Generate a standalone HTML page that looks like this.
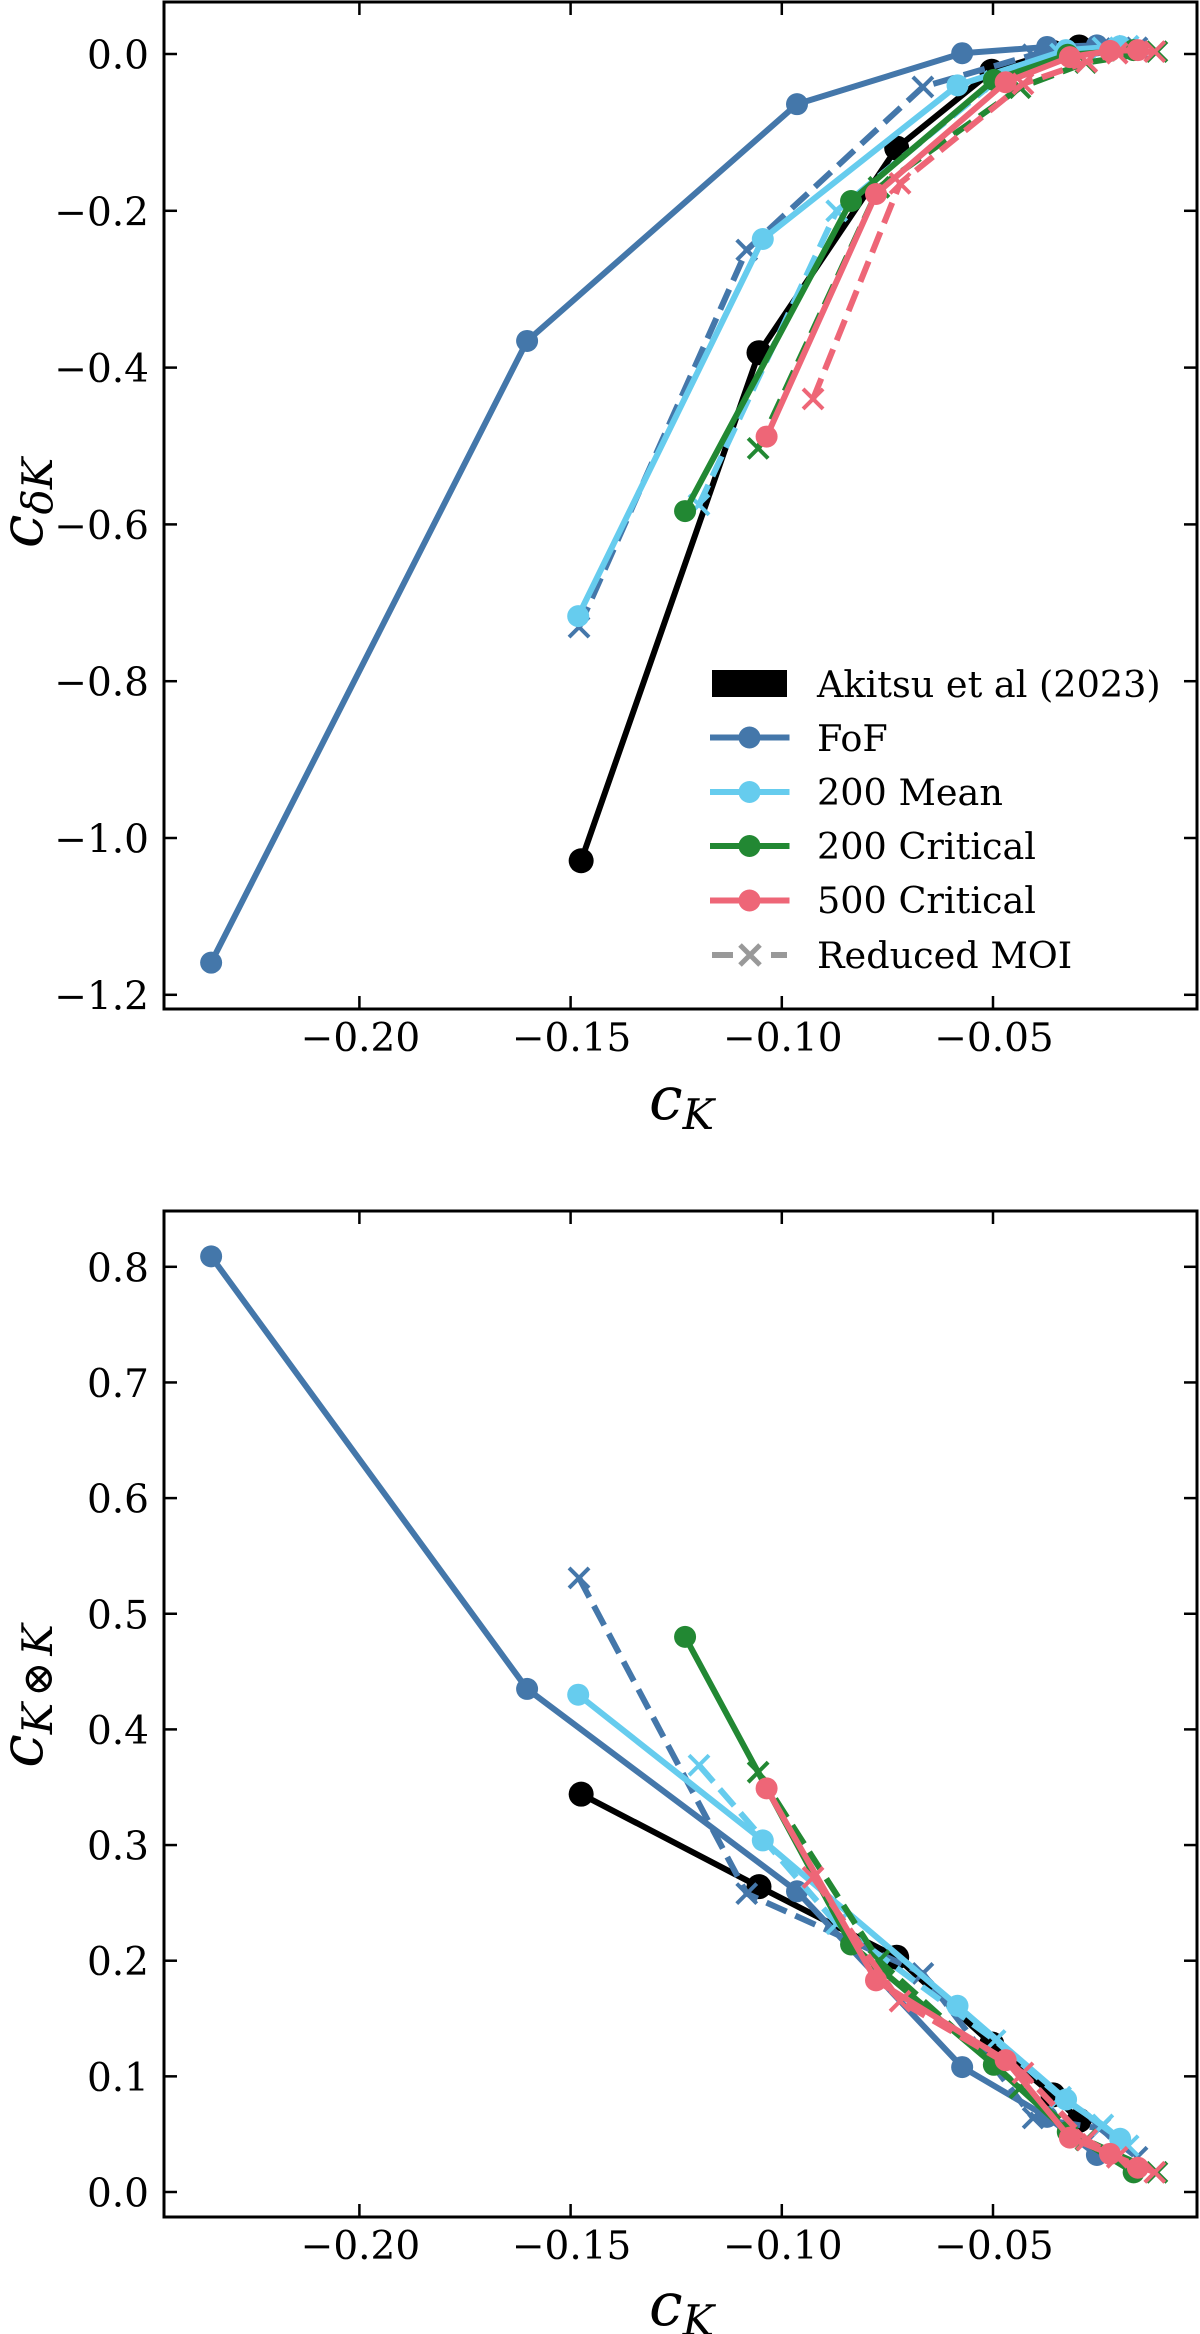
<!DOCTYPE html>
<html lang="en">
<head>
<meta charset="utf-8">
<title>Counterterm comparison</title>
<style>
html,body{margin:0;padding:0;background:#fff;}
svg{display:block;}
text{font-family:"DejaVu Serif","Liberation Serif",serif;fill:#000;}
</style>
</head>
<body>
<svg id="fig" xmlns="http://www.w3.org/2000/svg" width="1200" height="2334" viewBox="0 0 1200 2334">
  <rect x="0" y="0" width="1200" height="2334" fill="#fff"/>
  <g id="top-marks"></g>
  <g id="bottom-marks"></g>
  <g id="axes"></g>

  <text x="649" y="1119" font-size="60" font-style="italic">c<tspan font-size="42" dy="10">K</tspan></text>
  <text x="649" y="2325" font-size="60" font-style="italic">c<tspan font-size="42" dy="10">K</tspan></text>
  <text transform="translate(42,503) rotate(-90)" text-anchor="middle" font-size="60" font-style="italic">c<tspan font-size="42" dy="10">δK</tspan></text>
  <text transform="translate(42,1696) rotate(-90)" text-anchor="middle" font-size="60" font-style="italic">c<tspan font-size="42" dy="10">K</tspan><tspan font-size="42" font-style="normal" dx="6">⊗</tspan><tspan font-size="42" dx="6">K</tspan></text>

  <g>
    <g>
      <rect x="712" y="670" width="75" height="27" fill="#000"/>
      <text x="817" y="697" font-size="36.6">Akitsu et al (2023)</text>
    </g>
    <g>
      <line x1="710" x2="789.5" y1="737.5" y2="737.5" stroke="#4477AA" stroke-width="6"/>
      <circle cx="749.5" cy="737.5" r="11" fill="#4477AA"/>
      <text x="817" y="751" font-size="36.6">FoF</text>
    </g>
    <g>
      <line x1="710" x2="789.5" y1="792" y2="792" stroke="#66CCEE" stroke-width="6"/>
      <circle cx="749.5" cy="792" r="11" fill="#66CCEE"/>
      <text x="817" y="805" font-size="36.6">200 Mean</text>
    </g>
    <g>
      <line x1="710" x2="789.5" y1="846" y2="846" stroke="#228833" stroke-width="6"/>
      <circle cx="749.5" cy="846" r="11" fill="#228833"/>
      <text x="817" y="859" font-size="36.6">200 Critical</text>
    </g>
    <g>
      <line x1="710" x2="789.5" y1="900.5" y2="900.5" stroke="#EE6677" stroke-width="6"/>
      <circle cx="749.5" cy="900.5" r="11" fill="#EE6677"/>
      <text x="817" y="913" font-size="36.6">500 Critical</text>
    </g>
    <g>
      <line x1="712" x2="733" y1="955" y2="955" stroke="#999" stroke-width="6"/>
      <line x1="771" x2="787" y1="955" y2="955" stroke="#999" stroke-width="6"/>
      <path d="M740 945L760 965M740 965L760 945" stroke="#999" stroke-width="5" fill="none"/>
      <text x="817" y="968" font-size="36.6">Reduced MOI</text>
    </g>
  </g>
</svg>

<script>
// x-axis ticks
const xTicks = [-0.20, -0.15, -0.10, -0.05];
const xTickLabels = ['\u22120.20', '\u22120.15', '\u22120.10', '\u22120.05'];
const topYTicks = [0, -0.2, -0.4, -0.6, -0.8, -1.0, -1.2];
const topYTickLabels = ['0.0', '\u22120.2', '\u22120.4', '\u22120.6', '\u22120.8', '\u22121.0', '\u22121.2'];
const bottomYTicks = [0, 0.1, 0.2, 0.3, 0.4, 0.5, 0.6, 0.7, 0.8];
const bottomYTickLabels = ['0.0', '0.1', '0.2', '0.3', '0.4', '0.5', '0.6', '0.7', '0.8'];

// Solid series: c_K
const ckAkitsu = [-0.1475, -0.1054, -0.0728, -0.0503, -0.0358, -0.0296];
const ckFof = [-0.2351, -0.1603, -0.0964, -0.0573, -0.0372, -0.0254];
const ckMean = [-0.1482, -0.1045, -0.0584, -0.0327, -0.0199];
const ckCrit200 = [-0.1229, -0.0836, -0.0498, -0.0323, -0.0167];
const ckCrit500 = [-0.1036, -0.0777, -0.047, -0.0318, -0.0223, -0.0157];
// Solid series: c_deltaK
const cdkAkitsu = [-1.029, -0.381, -0.12, -0.022, 0.002, 0.009];
const cdkFof = [-1.159, -0.366, -0.064, 0.001, 0.009, 0.011];
const cdkMean = [-0.717, -0.236, -0.04, 0.005, 0.01];
const cdkCrit200 = [-0.583, -0.1875, -0.033, -0.001, 0.005];
const cdkCrit500 = [-0.488, -0.1786, -0.036, -0.004, 0.004, 0.005];
// Solid series: c_KK
const ckkAkitsu = [0.344, 0.264, 0.203, 0.128, 0.084, 0.062];
const ckkFof = [0.809, 0.435, 0.26, 0.108, 0.065, 0.032];
const ckkMean = [0.43, 0.304, 0.161, 0.08, 0.046];
const ckkCrit200 = [0.48, 0.214, 0.11, 0.052, 0.017];
const ckkCrit500 = [0.349, 0.183, 0.114, 0.047, 0.033, 0.021];

// Reduced MOI (dashed) series: c_K
const ckFofR = [-0.148, -0.1083, -0.0666, -0.0405, -0.0247, -0.0159];
const ckMeanR = [-0.1196, -0.087, -0.0495, -0.034, -0.024, -0.018];
const ckCrit200R = [-0.1056, -0.077, -0.0436, -0.028, -0.0112];
const ckCrit500R = [-0.0926, -0.072, -0.0429, -0.0278, -0.0206, -0.0117];
// Reduced MOI: c_deltaK
const cdkFofR = [-0.731, -0.25, -0.042, -0.001, 0.007, 0.008];
const cdkMeanR = [-0.575, -0.2, -0.035, 0.0, 0.008, 0.01];
const cdkCrit200R = [-0.503, -0.17, -0.043, -0.011, 0.003];
const cdkCrit500R = [-0.44, -0.165, -0.038, -0.01, 0.001, 0.003];
// Reduced MOI: c_KK
const ckkFofR = [0.531, 0.258, 0.189, 0.064, 0.055, 0.03];
const ckkMeanR = [0.369, 0.232, 0.131, 0.082, 0.058, 0.04];
const ckkCrit200R = [0.363, 0.2, 0.09, 0.045, 0.017];
const ckkCrit500R = [0.272, 0.165, 0.103, 0.045, 0.03, 0.017];

const NS = 'http://www.w3.org/2000/svg';
const PANEL_LEFT = 164, PANEL_RIGHT = 1197;
const topBox = {top: 2, bottom: 1009};
const bottomBox = {top: 1211, bottom: 2217};

function xScale(v) { return 993 + (v + 0.05) * 4224; }
function topY(v) { return 54 - 784 * v; }
function bottomY(v) { return 2192 - 1156.5 * v; }

function make(tag, parent) {
  const el = document.createElementNS(NS, tag);
  parent.appendChild(el);
  return el;
}

function pointsOf(xs, ys, yFn) {
  return xs.map(function (x, i) { return xScale(x) + ',' + yFn(ys[i]); }).join(' ');
}

function drawSolid(parent, name, color, xs, ys, yFn, radius) {
  const line = make('polyline', parent);
  
  
  line.setAttribute('points', pointsOf(xs, ys, yFn));
  line.setAttribute('fill', 'none');
  line.setAttribute('stroke', color);
  line.setAttribute('stroke-width', '6');
  line.setAttribute('stroke-linejoin', 'round');
  xs.forEach(function (x, i) {
    const dot = make('circle', parent);
    
    
    dot.setAttribute('cx', xScale(x));
    dot.setAttribute('cy', yFn(ys[i]));
    dot.setAttribute('r', radius);
    dot.setAttribute('fill', color);
  });
}

function drawDashed(parent, name, color, xs, ys, yFn) {
  const line = make('polyline', parent);
  
  
  line.setAttribute('points', pointsOf(xs, ys, yFn));
  line.setAttribute('fill', 'none');
  line.setAttribute('stroke', color);
  line.setAttribute('stroke-width', '6');
  line.setAttribute('stroke-dasharray', '22 9.6');
  xs.forEach(function (x, i) {
    const cx = xScale(x), cy = yFn(ys[i]), s = 10;
    const cross = make('path', parent);
    
    
    cross.setAttribute('d', 'M' + (cx - s) + ' ' + (cy - s) + 'L' + (cx + s) + ' ' + (cy + s) +
      'M' + (cx - s) + ' ' + (cy + s) + 'L' + (cx + s) + ' ' + (cy - s));
    cross.setAttribute('stroke', color);
    cross.setAttribute('stroke-width', '4');
    cross.setAttribute('fill', 'none');
  });
}

function drawPanel(parent, prefix, yFn, akitsu, fof, mean, c200, c500, fofR, meanR, c200R, c500R) {
  drawSolid(parent, prefix + '-akitsu', '#000000', ckAkitsu, akitsu, yFn, 12.5);
  drawDashed(parent, prefix + '-fof-reduced', '#4477AA', ckFofR, fofR, yFn);
  drawSolid(parent, prefix + '-fof', '#4477AA', ckFof, fof, yFn, 11);
  drawDashed(parent, prefix + '-200-mean-reduced', '#66CCEE', ckMeanR, meanR, yFn);
  drawSolid(parent, prefix + '-200-mean', '#66CCEE', ckMean, mean, yFn, 11);
  drawDashed(parent, prefix + '-200-critical-reduced', '#228833', ckCrit200R, c200R, yFn);
  drawSolid(parent, prefix + '-200-critical', '#228833', ckCrit200, c200, yFn, 11);
  drawDashed(parent, prefix + '-500-critical-reduced', '#EE6677', ckCrit500R, c500R, yFn);
  drawSolid(parent, prefix + '-500-critical', '#EE6677', ckCrit500, c500, yFn, 11);
}

function drawAxes(parent, prefix, box, yFn, yTicks, yLabels) {
  const frame = make('rect', parent);
  
  
  frame.setAttribute('x', PANEL_LEFT);
  frame.setAttribute('y', box.top);
  frame.setAttribute('width', PANEL_RIGHT - PANEL_LEFT);
  frame.setAttribute('height', box.bottom - box.top);
  frame.setAttribute('fill', 'none');
  frame.setAttribute('stroke', '#000');
  frame.setAttribute('stroke-width', '3');

  xTicks.forEach(function (t, i) {
    const px = xScale(t);
    [[box.bottom, box.bottom - 13], [box.top, box.top + 13]].forEach(function (seg) {
      const tick = make('line', parent);
      
      
      tick.setAttribute('x1', px);
      tick.setAttribute('x2', px);
      tick.setAttribute('y1', seg[0]);
      tick.setAttribute('y2', seg[1]);
      tick.setAttribute('stroke', '#000');
      tick.setAttribute('stroke-width', '2.5');
    });
    const label = make('text', parent);
    
    
    label.setAttribute('x', px + 1);
    label.setAttribute('y', box.bottom + 42);
    label.setAttribute('font-size', '39');
    label.setAttribute('text-anchor', 'middle');
    label.textContent = xTickLabels[i];
  });

  yTicks.forEach(function (t, i) {
    const py = yFn(t);
    [[PANEL_LEFT, PANEL_LEFT + 13], [PANEL_RIGHT, PANEL_RIGHT - 13]].forEach(function (seg) {
      const tick = make('line', parent);
      
      
      tick.setAttribute('x1', seg[0]);
      tick.setAttribute('x2', seg[1]);
      tick.setAttribute('y1', py);
      tick.setAttribute('y2', py);
      tick.setAttribute('stroke', '#000');
      tick.setAttribute('stroke-width', '2.5');
    });
    const label = make('text', parent);
    
    
    label.setAttribute('x', 149);
    label.setAttribute('y', py + 14.5);
    label.setAttribute('font-size', '39');
    label.setAttribute('text-anchor', 'end');
    label.textContent = yLabels[i];
  });
}

drawPanel(document.getElementById('top-marks'), 'top', topY,
  cdkAkitsu, cdkFof, cdkMean, cdkCrit200, cdkCrit500,
  cdkFofR, cdkMeanR, cdkCrit200R, cdkCrit500R);
drawPanel(document.getElementById('bottom-marks'), 'bottom', bottomY,
  ckkAkitsu, ckkFof, ckkMean, ckkCrit200, ckkCrit500,
  ckkFofR, ckkMeanR, ckkCrit200R, ckkCrit500R);

const axesGroup = document.getElementById('axes');
drawAxes(axesGroup, 'top', topBox, topY, topYTicks, topYTickLabels);
drawAxes(axesGroup, 'bottom', bottomBox, bottomY, bottomYTicks, bottomYTickLabels);
</script>
</body>
</html>
